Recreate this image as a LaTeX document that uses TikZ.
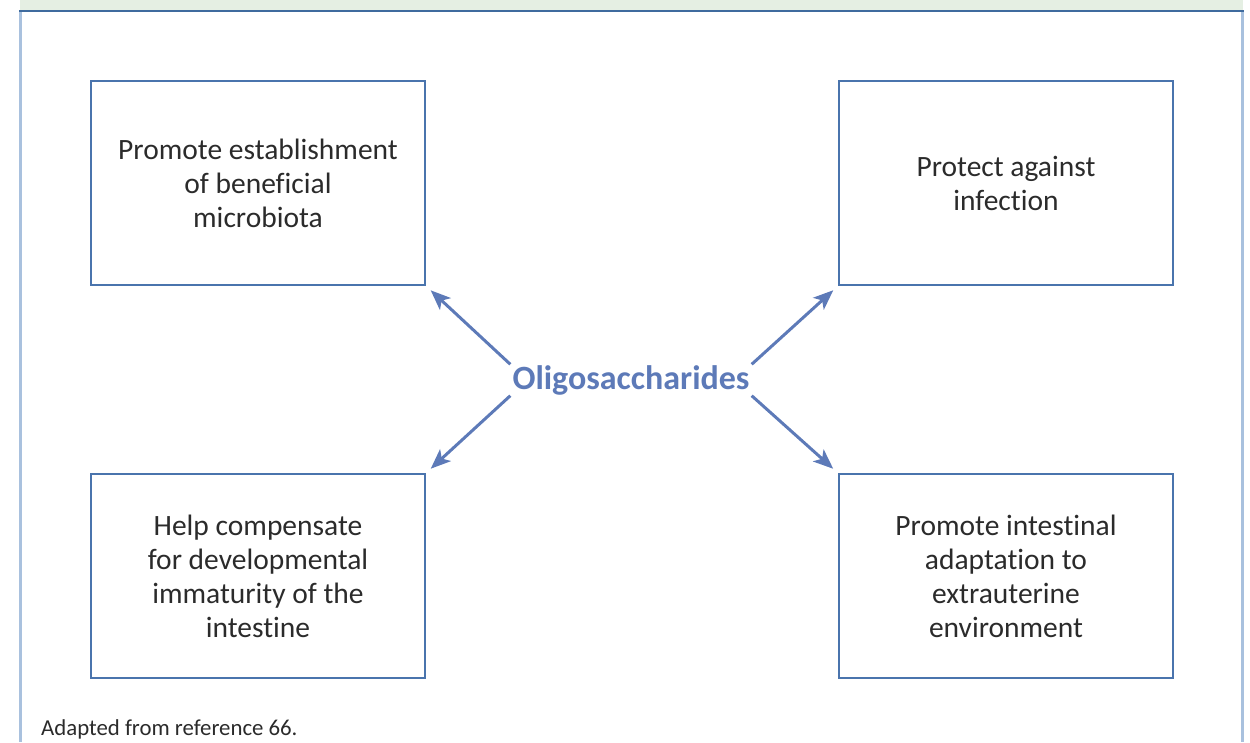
\documentclass[tikz,border=0pt]{standalone}
\usepackage{fontspec}
\setmainfont{Carlito}[Ligatures=NoCommon,Contextuals=NoAlternate,RawFeature={-clig;-dlig;-ccmp}]
\usetikzlibrary{arrows.meta,positioning}
\definecolor{bandgreen}{HTML}{E5EFE3}
\definecolor{framedark}{HTML}{3F6B9E}
\definecolor{framelight}{HTML}{A9C1DE}
\definecolor{boxblue}{HTML}{4A74AD}
\definecolor{arrowblue}{HTML}{5D7AB8}
\definecolor{textgray}{HTML}{2B2B2B}
\tikzset{
    %Define style for boxes
    effect/.style={
           rectangle,
           draw=boxblue, line width=1.1pt,
           minimum width=334pt,
           minimum height=204pt,
           inner sep=0pt,
           font=\fontsize{29.5}{34}\selectfont,
           text=textgray,
           align=center,
           },
    source/.style={
           rectangle,
           minimum width=241pt,
           minimum height=31pt,
           inner sep=0pt,
           font=\fontsize{34}{38}\selectfont\bfseries,
           text=arrowblue,
           },
    % Define arrow style
    pil/.style={
           -{Stealth[length=20pt,width=16pt,inset=5pt]},
           draw=arrowblue,
           line width=3pt,
           shorten >=7pt,},
}
\begin{document}
\begin{tikzpicture}[x=1pt,y=1pt]
\useasboundingbox (0,0) rectangle (1250,-742);
% frame
\fill[bandgreen] (20,0) rectangle (1243,-11);
\draw[framelight, line width=2.5pt] (20.5,-11) -- (20.5,-742);
\draw[framelight, line width=2.5pt] (1242.5,-11) -- (1242.5,-742);
\draw[framedark, line width=1.6pt] (19.3,-11) -- (1243.7,-11);
% nodes
\node[source] (O) at (631,-380) {Oligosaccharides};
\node[effect] (M) at (258,-183) {Promote establishment\\of beneficial\\microbiota};
\node[effect] (P) at (1006,-183) {Protect against\\infection};
\node[effect] (H) at (258,-576) {Help compensate\\for developmental\\immaturity of the\\intestine};
\node[effect] (A) at (1006,-576) {Promote intestinal\\adaptation to\\extrauterine\\environment};
\node[anchor=base west, inner sep=0pt, font=\fontsize{22.8}{26}\selectfont, text=textgray] (R) at (41,-735) {Adapted from reference 66.};
\draw[pil] (O.north west) -- (M.south east);
\draw[pil] (O.north east) -- (P.south west);
\draw[pil] (O.south west) -- (H.north east);
\draw[pil] (O.south east) -- (A.north west);
\end{tikzpicture}
\end{document}
